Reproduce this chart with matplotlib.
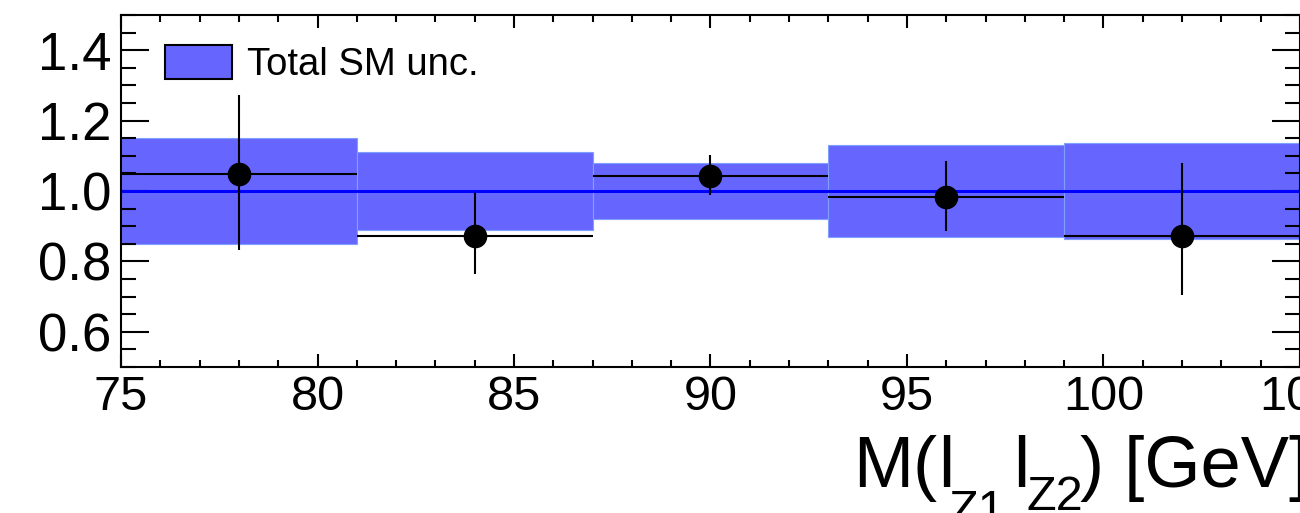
import matplotlib
matplotlib.use("Agg")
import matplotlib.pyplot as plt
from matplotlib.patches import Patch
from matplotlib.ticker import MultipleLocator
import numpy as np

plt.rcParams['font.family'] = ['Liberation Sans', 'DejaVu Sans']

# Data
bin_edges = [75, 81, 87, 93, 99, 105]
ratio = [1.047, 0.871, 1.043, 0.983, 0.872]
err_up = [0.227, 0.123, 0.060, 0.102, 0.207]
err_down = [0.215, 0.107, 0.055, 0.096, 0.168]
band_unc = [0.151, 0.110, 0.080, 0.131, 0.135]

edges = np.array(bin_edges, dtype=float)
centers = 0.5 * (edges[:-1] + edges[1:])
widths = np.diff(edges)
band = np.array(band_unc)

W, H = 1300, 513
fig = plt.figure(figsize=(W / 100, H / 100), dpi=100)
ax = fig.add_axes([121 / W, (H - 367) / H, (1300 - 121) / W, (367 - 15) / H])

ax.bar(centers, 2 * band, bottom=1 - band, width=widths, color='#6666ff',
       edgecolor='#7f9fff', linewidth=0.8, zorder=1)
ax.axhline(1.0, color='#0000ff', lw=2.2, zorder=2)
ax.errorbar(centers, ratio, yerr=[err_down, err_up], xerr=widths / 2,
            fmt='o', color='black', ms=16, elinewidth=1.5, capsize=0, zorder=3)

ax.set_xlim(75, 105)
ax.set_ylim(0.5, 1.5)
ax.xaxis.set_major_locator(MultipleLocator(5))
ax.xaxis.set_minor_locator(MultipleLocator(1))
ax.yaxis.set_minor_locator(MultipleLocator(0.05))
ax.set_yticks([0.6, 0.8, 1.0, 1.2, 1.4])
ax.set_yticklabels(['0.6', '0.8', '1.0', '1.2', '1.4'])

ax.tick_params(axis='both', which='both', direction='in', top=True, right=True,
               width=1.5, color='black')
ax.tick_params(axis='y', which='major', length=20, labelsize=38, pad=7)
ax.tick_params(axis='y', which='minor', length=10.5)
ax.tick_params(axis='x', which='major', length=9.5, labelsize=35, pad=6)
ax.tick_params(axis='x', which='minor', length=5)
for s in ax.spines.values():
    s.set_linewidth(1.5)

handle = Patch(facecolor='#6666ff', edgecolor='black', linewidth=1.5)
leg = ax.legend([handle], ['Total SM unc.'], loc='upper left',
                bbox_to_anchor=(165 / W, (H - 45) / H), bbox_transform=fig.transFigure,
                frameon=False, fontsize=27.5, borderpad=0, borderaxespad=0,
                handlelength=1.75, handleheight=1.0, handletextpad=0.4)

# x-axis title built from pieces (ROOT-like subscript placement)
def ftxt(x, y, s, size):
    fig.text(x / W, (H - y) / H, s, ha='left', va='baseline', fontsize=size)

ftxt(853, 487, 'M(', 52)
ftxt(938, 487, 'l', 52)
ftxt(948, 524, 'Z1', 35)
ftxt(1013, 487, 'l', 52)
ftxt(1026, 510, 'Z2', 35)
ftxt(1080, 487, ') [GeV]', 52)

fig.savefig('out.png', dpi=100)
